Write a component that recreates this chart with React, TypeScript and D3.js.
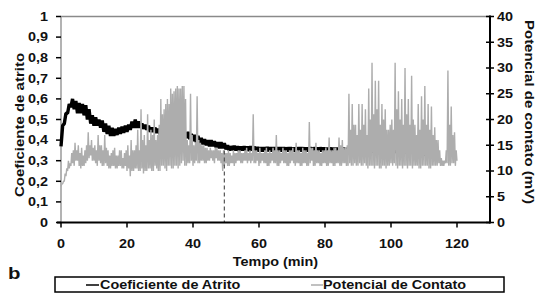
import React from 'react'
import * as d3 from 'd3'

// passos de tempo entre amostras (min)
const passoAtrito = 0.5
const passoPotencial = 0.25

// coeficiente de atrito (eixo esquerdo), amostras a cada 0,5 min
const atrito = [
  0.37, 0.47, 0.48, 0.53, 0.53, 0.575, 0.56, 0.6, 0.55, 0.59, 0.53, 0.58, 0.53, 0.575, 0.52, 0.57,
  0.5, 0.55, 0.48, 0.52, 0.47, 0.51, 0.47, 0.5, 0.46, 0.495, 0.44, 0.48, 0.43, 0.47, 0.42, 0.46,
  0.42, 0.455, 0.425, 0.46, 0.43, 0.465, 0.435, 0.47, 0.44, 0.475, 0.45, 0.49, 0.46, 0.5, 0.46, 0.49,
  0.46, 0.48, 0.455, 0.475, 0.45, 0.47, 0.44, 0.46, 0.44, 0.46, 0.435, 0.455, 0.43, 0.455, 0.43, 0.45,
  0.43, 0.45, 0.425, 0.445, 0.42, 0.445, 0.42, 0.44, 0.415, 0.44, 0.415, 0.435, 0.41, 0.44, 0.405, 0.43,
  0.395, 0.425, 0.39, 0.42, 0.385, 0.41, 0.38, 0.405, 0.375, 0.4, 0.37, 0.4, 0.37, 0.395, 0.365, 0.39,
  0.36, 0.39, 0.36, 0.385, 0.355, 0.375, 0.35, 0.37, 0.352, 0.372, 0.35, 0.37, 0.348, 0.368, 0.35, 0.37,
  0.35, 0.368, 0.348, 0.37, 0.35, 0.368, 0.348, 0.366, 0.345, 0.365, 0.346, 0.365, 0.345, 0.366, 0.346, 0.365,
  0.345, 0.364, 0.345, 0.365, 0.346, 0.364, 0.345, 0.365, 0.344, 0.364, 0.345, 0.365, 0.345, 0.363, 0.344, 0.364,
  0.345, 0.365, 0.345, 0.364, 0.344, 0.363, 0.345, 0.365, 0.344, 0.364, 0.345, 0.363, 0.344, 0.364, 0.345, 0.363,
  0.344, 0.362, 0.345, 0.363, 0.344, 0.362, 0.343, 0.362, 0.344, 0.363, 0.343, 0.362, 0.342, 0.36, 0.343, 0.36,
  0.342, 0.358, 0.341, 0.357, 0.342, 0.356, 0.34, 0.356, 0.341, 0.355, 0.34, 0.356, 0.341, 0.355, 0.34, 0.355,
  0.34, 0.356, 0.341, 0.355, 0.34, 0.354, 0.34, 0.355, 0.339, 0.355, 0.34, 0.354, 0.339, 0.355, 0.34, 0.354,
  0.339, 0.355, 0.34, 0.354, 0.339, 0.353, 0.34, 0.354, 0.339, 0.355, 0.33, 0.37, 0.325, 0.365, 0.33, 0.35,
  0.34
]

// potencial de contato em mV (eixo direito), amostras a cada 0,25 min (uma linha = 4 min)
const potencial = [
  7, 7.5, 7.5, 8, 8, 9.5, 9, 10.5, 10, 12, 10.5, 11.5, 11, 13.5, 11.5, 14,
  11, 15.5, 12, 14, 12, 15, 11, 13.5, 10.5, 14.5, 11, 13, 11, 14, 11.5, 15,
  12, 17.5, 12.5, 15, 13, 16, 12, 14.5, 12, 15, 11.5, 14, 11, 17, 12, 15,
  11.5, 15, 11, 14, 11, 17, 11.5, 14.5, 11, 14, 10.5, 13, 10.5, 13.5, 11, 14,
  11, 14.5, 10.5, 13, 10.5, 13, 11, 14, 11, 14, 10.5, 12.5, 10.5, 13.5, 11, 14,
  10, 15, 10.5, 13, 9, 16, 10, 14, 10, 14, 10.5, 15, 10.5, 18, 10, 14,
  10, 22, 10.5, 16, 9.5, 17, 10, 15, 10, 21, 10.5, 16, 10.5, 18, 10, 17,
  10, 20, 11, 16, 10.5, 17, 10, 19, 10, 24, 11, 21, 11, 22, 10.5, 23,
  10, 24, 11, 23, 11, 26, 10.5, 25, 10.5, 25.5, 11, 26, 11, 26.5, 10.5, 26,
  11, 26, 11.5, 26.5, 12, 26.5, 11, 24, 11, 16, 11.5, 15, 11.5, 25, 12, 17,
  11, 15, 11.5, 15.5, 12, 24.5, 11.5, 16, 11.5, 15.5, 12, 15, 12, 15, 11.5, 14.5,
  11.5, 14.5, 12, 14, 12, 14.5, 12.5, 14, 12, 14, 11.5, 14.5, 12.5, 14.5, 12, 14,
  12, 14, 11.5, 13.5, 10, 14, 11, 13.5, 11.5, 13.5, 11, 14, 11, 13.5, 11.5, 13,
  11.5, 14, 11, 13.5, 11.5, 13.5, 12, 14, 12, 14, 11.5, 13.5, 11.5, 13.5, 12, 14,
  12, 14.5, 11.5, 13.5, 12, 14, 11.5, 13.5, 12, 21, 11.5, 14, 11.5, 14, 12, 13.5,
  11, 14.5, 11.5, 13.5, 12, 13.5, 11.5, 14, 11.5, 14.5, 11, 13.5, 11, 14, 11.5, 13.5,
  12, 14.5, 11.5, 14, 11.5, 17, 11, 14, 11, 14, 11.5, 13.5, 12, 14.5, 11.5, 14,
  11.5, 14, 11, 13.5, 11, 14, 11.5, 14, 12, 14.5, 11.5, 13.5, 11, 15.5, 11.5, 14,
  11.5, 14, 11, 13.5, 11, 14.5, 11.5, 14, 11.5, 14, 11, 13.5, 11, 19.5, 11.5, 14.5,
  12, 14.5, 11, 14, 11, 15.5, 11.5, 14, 11.5, 14, 11, 13.5, 11, 14, 11.5, 14,
  11.5, 14.5, 11, 14, 11, 16.5, 11.5, 14, 11.5, 14, 11, 14.5, 11, 14.5, 11.5, 14,
  11.5, 16.5, 11, 15, 11, 16, 11.5, 14.5, 11.5, 14.5, 11, 15, 11, 25, 11.5, 18,
  11, 23, 11, 19, 11.5, 19, 11, 17, 11, 23, 11.5, 18, 11, 23, 11, 19,
  11.5, 22, 11, 17, 10.5, 26, 11, 20, 11, 31, 11, 21, 10.5, 27.5, 11, 22,
  11, 27.5, 10.5, 19, 10.5, 23, 11, 20, 11, 22, 10.5, 18, 11, 18, 11, 19,
  11.5, 20, 11, 18, 11.5, 31, 11, 22, 10.5, 25.5, 11, 20, 11, 24, 10.5, 19,
  11, 30, 11, 21, 10.5, 24, 11, 19, 11, 28.5, 10.5, 20, 11, 19, 11, 17,
  11, 23, 10.5, 18, 10.5, 24.5, 11, 20, 11, 26.5, 11, 19, 11, 23, 10.5, 18,
  10.5, 22.5, 11, 17, 11, 18.5, 11, 16, 11, 16, 11.5, 14, 11, 12.5, 11, 12,
  11, 12, 11.5, 14, 11.5, 29.5, 11, 19, 11, 22.5, 11.5, 17, 11.5, 17.5, 11, 14,
  12
]

const ticksTempo = [0, 20, 40, 60, 80, 100, 120]
const ticksAtrito = [0, 0.1, 0.2, 0.3, 0.4, 0.5, 0.6, 0.7, 0.8, 0.9, 1]
const ticksPotencial = [0, 5, 10, 15, 20, 25, 30, 35, 40]

// linha tracejada vertical
const marcoTempo = 49.5
const marcoAtrito = 0.35

const W = 535
const H = 299
const fonte = "'Liberation Sans', Arial, sans-serif"
const esticar = 'scale(1.2,1)'

function rotulo (v: number) {
  return v === 0 || v === 1 ? String(v) : v.toFixed(1).replace('.', ',')
}

export default function App () {
  const x = d3.scaleLinear().domain([0, 130]).range([61, 490])
  const yL = d3.scaleLinear().domain([0, 1]).range([222.5, 16.5])
  const yR = d3.scaleLinear().domain([0, 40]).range([222.5, 16.5])

  const linhaAtrito = d3.line<number>()
    .x((d, i) => x(i * passoAtrito))
    .y(d => yL(d))
  const linhaPot = d3.line<number>()
    .x((d, i) => x(i * passoPotencial))
    .y(d => yR(d))

  const x0 = x(0)
  const x1 = x(130)
  const yBase = yL(0)
  const yTopo = yL(1)

  const txt = { fontFamily: fonte, fontWeight: 700, fontSize: 12, fill: '#111' }

  return (
    <svg width={W} height={H} style={{ position: 'absolute', left: 0, top: 0, background: '#fff' }}>
      {/* borda da area */}
      <line x1={x0} x2={x1} y1={yTopo} y2={yTopo} stroke='#8a8a8a' strokeWidth={1.5} />
      <line x1={x0} x2={x0} y1={yTopo} y2={yBase} stroke='#9a9a9a' strokeWidth={1.5} />

      {/* series */}
      <path d={linhaAtrito(atrito) || ''} fill='none' stroke='#000' strokeWidth={3.4} strokeLinejoin='bevel' />
      <path d={linhaPot(potencial) || ''} fill='none' stroke='#adadad' strokeWidth={1.4} strokeLinejoin='bevel' />

      <line x1={x(marcoTempo)} x2={x(marcoTempo)} y1={yL(marcoAtrito)} y2={yBase}
        stroke='#555' strokeWidth={1.2} strokeDasharray='4,3' />

      {/* eixo x */}
      <line x1={x0 - 4} x2={x1} y1={yBase} y2={yBase} stroke='#000' strokeWidth={2} />
      {ticksTempo.map(t => (
        <g key={'t' + t}>
          <line x1={x(t)} x2={x(t)} y1={yBase} y2={yBase + 5} stroke='#000' strokeWidth={1.5} />
          <text transform={`translate(${x(t)},248) ${esticar}`} textAnchor='middle' style={txt}>{t}</text>
        </g>
      ))}
      <text transform={`translate(${(x0 + x1) / 2},266) ${esticar}`} textAnchor='middle' style={txt}>Tempo (min)</text>

      {/* eixo esquerdo */}
      {ticksAtrito.map(v => (
        <g key={'a' + v}>
          <line x1={x0 - 5} x2={x0} y1={yL(v)} y2={yL(v)} stroke='#000' strokeWidth={1.5} />
          <text transform={`translate(48,${yL(v) + 4.3}) ${esticar}`} textAnchor='end' style={txt}>{rotulo(v)}</text>
        </g>
      ))}
      <text transform={`translate(24,125) rotate(-90) ${esticar}`} textAnchor='middle' style={{ ...txt, fontSize: 12.5 }}>Coeficiente de atrito</text>

      {/* eixo direito */}
      <line x1={x1} x2={x1} y1={yTopo - 1} y2={yBase + 1} stroke='#000' strokeWidth={2} />
      {ticksPotencial.map(v => (
        <g key={'p' + v}>
          <line x1={x1 - 4} x2={x1 + 4} y1={yR(v)} y2={yR(v)} stroke='#000' strokeWidth={1.5} />
          <text transform={`translate(497,${yR(v) + 4.3}) ${esticar}`} textAnchor='start' style={txt}>{v}</text>
        </g>
      ))}
      <text transform={`translate(525,112) rotate(90) ${esticar}`} textAnchor='middle' style={{ ...txt, fontSize: 12.5 }}>Potencial de contato (mV)</text>

      {/* legenda */}
      <text transform={`translate(8,279) ${esticar}`} style={{ ...txt, fontSize: 17 }}>b</text>
      <rect x={55} y={277} width={449} height={15} fill='#fff' stroke='#000' strokeWidth={1.5} />
      <line x1={86} x2={99} y1={285} y2={285} stroke='#000' strokeWidth={1.5} />
      <text transform={`translate(100,289) ${esticar}`} style={txt}>Coeficiente de Atrito</text>
      <line x1={311} x2={323} y1={285} y2={285} stroke='#adadad' strokeWidth={1.5} />
      <text transform={`translate(323,289) ${esticar}`} style={txt}>Potencial de Contato</text>
    </svg>
  )
}
